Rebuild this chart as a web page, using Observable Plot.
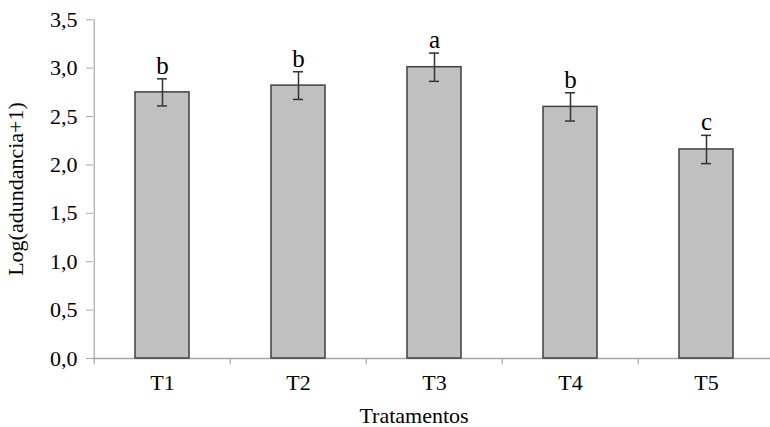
<!DOCTYPE html>
<html>
<head>
<meta charset="utf-8">
<script src="https://cdn.jsdelivr.net/npm/d3@7"></script>
<script src="https://cdn.jsdelivr.net/npm/@observablehq/plot@0.6"></script>
<style>
  html, body { margin: 0; padding: 0; background: #fff; overflow: hidden; }
</style>
</head>
<body>
<div id="chart"></div>
<script>
const categories = ["T1", "T2", "T3", "T4", "T5"];
const means = [2.75, 2.82, 3.01, 2.60, 2.16];
const errors = [0.14, 0.143, 0.146, 0.146, 0.146];
const letters = ["b", "b", "a", "b", "c"];
const yTicks = [0, 0.5, 1.0, 1.5, 2.0, 2.5, 3.0, 3.5];
const xTitle = "Tratamentos";
const yTitle = "Log(adundancia+1)";

const data = categories.map((c, i) => ({
  cat: c, mean: means[i], lo: means[i] - errors[i], hi: means[i] + errors[i], letter: letters[i]
}));

const axisGrey = "#a6a6a6";
const serif = "'Liberation Serif', 'Times New Roman', serif";

const chart = Plot.plot({
  width: 770,
  height: 427,
  marginLeft: 93,
  marginRight: 0,
  marginTop: 19,
  marginBottom: 69,
  x: { domain: categories, range: [93, 775.5], padding: 0 },
  y: { domain: [0, 3.5], range: [358, 19.3] },
  style: { fontFamily: serif, fontSize: "22px", color: "#000", background: "#fff" },
  marks: [
    Plot.axisY({
      ticks: yTicks,
      tickFormat: d => d.toFixed(1).replace(".", ","),
      tickSize: 7,
      tickPadding: 9,
      stroke: axisGrey,
      fill: "#000",
      fontSize: 22,
      label: yTitle,
      labelAnchor: "center",
      labelOffset: 86,
      labelArrow: "none"
    }),
    Plot.axisX({
      tickSize: 0,
      tickPadding: 16,
      fill: "#000",
      fontSize: 22,
      label: null
    }),
    Plot.text([xTitle], { text: d => d, frameAnchor: "bottom", dx: -18, dy: 57, lineAnchor: "middle", fontSize: 22, fill: "#000" }),
    // y-axis line (left edge of first band)
    Plot.ruleX([categories[0]], { dx: -68.25, y1: 3.5, y2: 0, insetBottom: -6, stroke: axisGrey, strokeWidth: 1.2 }),
    // boundary ticks between categories
    Plot.ruleX(categories.slice(1), { dx: -68.25, y1: 0, y2: 0, insetBottom: -6, stroke: axisGrey, strokeWidth: 1.2 }),
    Plot.ruleY([0], { stroke: axisGrey, strokeWidth: 1.5 }),
    Plot.barY(data, {
      x: "cat", y: "mean",
      fill: "#c0c0c0", stroke: "#404040", strokeWidth: 1.5,
      insetLeft: 41, insetRight: 41
    }),
    Plot.ruleX(data, { x: "cat", y1: "lo", y2: "hi", stroke: "#333", strokeWidth: 1.5 }),
    Plot.tickY(data, { x: "cat", y: "lo", stroke: "#333", strokeWidth: 1.5, insetLeft: 63, insetRight: 63 }),
    Plot.tickY(data, { x: "cat", y: "hi", stroke: "#333", strokeWidth: 1.5, insetLeft: 63, insetRight: 63 }),
    Plot.text(data, { x: "cat", y: "hi", text: "letter", dy: -5, lineAnchor: "bottom", fontSize: 25, fill: "#000" })
  ]
});
document.getElementById("chart").appendChild(chart);
</script>
</body>
</html>
